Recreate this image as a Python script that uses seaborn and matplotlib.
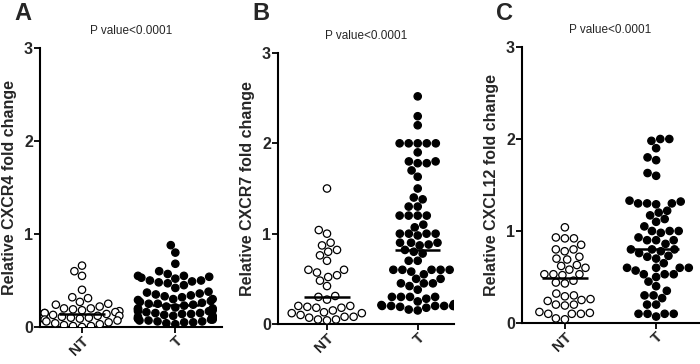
import warnings
import pandas as pd
import seaborn as sns
import matplotlib.pyplot as plt

warnings.filterwarnings('ignore')

# **************************************************************************
# values

groups = ['NT', 'T']

cxcr4_nt = [0.66, 0.6, 0.55, 0.4, 0.32, 0.31, 0.27, 0.25, 0.24, 0.22, 0.2, 0.2,
            0.19, 0.18, 0.17, 0.16, 0.15, 0.15, 0.14, 0.13, 0.12, 0.12, 0.11, 0.1,
            0.1, 0.09, 0.08, 0.07, 0.06, 0.05, 0.04, 0.03, 0.02, 0.01, 0.01, 0.0]
cxcr4_t = [0.88, 0.8, 0.68, 0.6, 0.57, 0.55, 0.55, 0.54, 0.53, 0.52, 0.5, 0.5,
           0.49, 0.48, 0.47, 0.45, 0.42, 0.38, 0.37, 0.36, 0.35, 0.34, 0.33, 0.32,
           0.3, 0.3, 0.29, 0.28, 0.27, 0.26, 0.25, 0.25, 0.24, 0.23, 0.22, 0.21,
           0.2, 0.2, 0.19, 0.18, 0.17, 0.17, 0.16, 0.15, 0.15, 0.14, 0.14, 0.13,
           0.12, 0.12, 0.11, 0.1, 0.1, 0.09, 0.09, 0.08, 0.08, 0.07, 0.07, 0.06,
           0.06, 0.05, 0.05, 0.04, 0.03]

cxcr7_nt = [1.5, 1.04, 1.0, 0.9, 0.87, 0.82, 0.8, 0.76, 0.7, 0.6, 0.6, 0.57,
            0.54, 0.52, 0.48, 0.42, 0.31, 0.3, 0.27, 0.2, 0.2, 0.19, 0.18, 0.18,
            0.15, 0.13, 0.12, 0.12, 0.1, 0.08, 0.08, 0.07, 0.05, 0.05, 0.04]
cxcr7_t = [2.52, 2.3, 2.2, 2.0, 2.0, 2.0, 2.0, 2.0, 1.9, 1.8, 1.8, 1.78, 1.78,
           1.7, 1.63, 1.5, 1.4, 1.38, 1.3, 1.3, 1.2, 1.2, 1.2, 1.2, 1.1, 1.07,
           1.0, 1.0, 1.0, 1.0, 0.98, 0.9, 0.9, 0.9, 0.88, 0.87, 0.82, 0.8, 0.78,
           0.7, 0.7, 0.6, 0.6, 0.6, 0.6, 0.6, 0.58, 0.55, 0.5, 0.5, 0.45, 0.45,
           0.45, 0.42, 0.38, 0.3, 0.3, 0.3, 0.3, 0.28, 0.25, 0.22, 0.21, 0.2,
           0.2, 0.2, 0.2, 0.2, 0.2, 0.19, 0.18, 0.16, 0.15]

cxcl12_nt = [1.04, 0.93, 0.92, 0.92, 0.85, 0.8, 0.8, 0.78, 0.72, 0.7, 0.69,
             0.63, 0.62, 0.6, 0.58, 0.53, 0.53, 0.53, 0.52, 0.46, 0.44, 0.43,
             0.32, 0.3, 0.29, 0.26, 0.25, 0.24, 0.2, 0.2, 0.19, 0.12, 0.11, 0.1,
             0.1, 0.1, 0.05, 0.04]
cxcl12_t = [2.0, 2.0, 1.98, 1.9, 1.8, 1.77, 1.63, 1.6, 1.33, 1.32, 1.3, 1.3,
            1.3, 1.29, 1.22, 1.2, 1.17, 1.13, 1.1, 1.05, 1.0, 1.0, 1.0, 0.98,
            0.93, 0.9, 0.9, 0.9, 0.86, 0.8, 0.8, 0.8, 0.78, 0.76, 0.73, 0.72,
            0.7, 0.65, 0.6, 0.6, 0.6, 0.6, 0.57, 0.53, 0.53, 0.53, 0.5, 0.45,
            0.4, 0.35, 0.3, 0.3, 0.27, 0.2, 0.2, 0.1, 0.1, 0.1, 0.1, 0.07]

panel_letters = ['A', 'B', 'C']
gene_names = ['CXCR4', 'CXCR7', 'CXCL12']
p_text = 'P value<0.0001'

# **************************************************************************


def make_frame(nt, t):
    return pd.DataFrame({'group': ['NT'] * len(nt) + ['T'] * len(t),
                         'value': list(nt) + list(t)})


def draw_panel(fig, rect, xlim, df, letter, gene):
    # rect is (left, right, top, bottom) in pixels
    W, H = 700, 364
    left, right, top, bottom = rect
    ax = fig.add_axes([left / W, 1 - bottom / H, (right - left) / W, (bottom - top) / H])

    sns.swarmplot(data=df, x='group', y='value', hue='group', order=groups,
                  palette={'NT': 'white', 'T': 'black'}, edgecolor='black',
                  linewidth=0.9, size=5.3, legend=False, ax=ax, zorder=3)

    # median line only
    sns.boxplot(data=df, x='group', y='value', order=groups, width=0.5,
                showbox=False, showcaps=False, showfliers=False,
                whiskerprops={'visible': False},
                medianprops={'color': 'black', 'linewidth': 1.8, 'zorder': 5},
                ax=ax)

    ax.set_ylim(0, 3)
    ax.set_xlim(*xlim)
    ax.set_yticks([0, 1, 2, 3])
    ax.set_yticklabels(['0', '1', '2', '3'], fontweight='bold', fontsize=11.5)
    ax.set_xticks([0, 1])
    ax.set_xticklabels(groups, fontweight='bold', fontsize=11, rotation=45,
                       ha='right', rotation_mode='anchor')
    ax.set_xlabel('')
    ax.set_ylabel('Relative ' + gene + ' fold change', fontweight='bold',
                  fontsize=11.5, labelpad=5)
    ax.set_title(p_text, fontsize=8.5, pad=10)
    ax.tick_params(width=1.3, length=4, color='black', pad=1)
    for s in ['left', 'bottom']:
        ax.spines[s].set_linewidth(1.5)
        ax.spines[s].set_color('black')
    sns.despine(ax=ax)

    fig.text((left - 26) / W, 1 - 13 / H, letter, fontsize=17, fontweight='bold',
             va='center', ha='left')
    return ax


# **************************************************************************


def run_viz():
    sns.set_style('ticks')
    plt.rcParams['font.family'] = ['Liberation Sans', 'DejaVu Sans']

    fig = plt.figure(figsize=(7, 3.64), dpi=100)

    frames = [make_frame(cxcr4_nt, cxcr4_t),
              make_frame(cxcr7_nt, cxcr7_t),
              make_frame(cxcl12_nt, cxcl12_t)]
    rects = [(40, 222, 48, 327), (278, 454, 53, 324), (522, 699, 47, 323)]
    xlims = [(-0.45, 1.5), (-0.54, 1.4), (-0.47, 1.47)]

    for i in range(3):
        draw_panel(fig, rects[i], xlims[i], frames[i], panel_letters[i], gene_names[i])

    fig.savefig('out.png', dpi=100)


# **************************************************************************


run_viz()
